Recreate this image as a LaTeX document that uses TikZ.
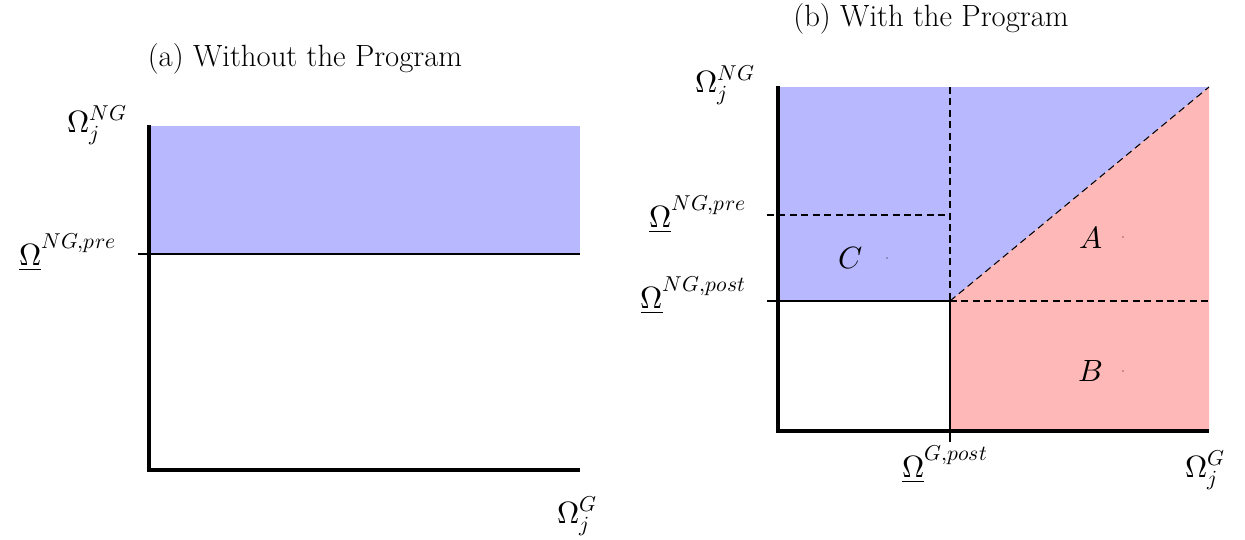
\documentclass[tikz,border=0pt]{standalone}
\usepackage{amsmath}
\usepackage{unicode-math}
\setmathfont{Latin Modern Math}
\usepackage{xcolor}
\usetikzlibrary{positioning}

\begin{document}
\begin{tikzpicture}[
    x=0.02cm, y=-0.02cm,
    font=\fontsize{17.5}{21}\selectfont,
    axisline/.style={line width=2.3pt},
    guideline/.style={line width=0.6pt},
    guidedash/.style={line width=0.6pt, dash pattern=on 4pt off 2.5pt},
    lbl/.style={inner sep=0pt, outer sep=0pt},
]
\useasboundingbox (0,0) rectangle (1245,539);

% ---------------- (a) Without the Program ----------------
\node[lbl, anchor=base] (titleA) at (305,66) {(a) Without the Program};

\fill[blue!28] (148,126) rectangle (580,254);
\draw[guideline] (138,254) -- (580,254);
\draw[axisline] (149,125) -- (149,470) -- (580,470);

\node[lbl, anchor=base east] (ngA) at (127,132) {$\Omega_j^{NG}$};
\node[lbl, anchor=base east] (preA) at (116,265) {$\underline{\Omega}^{NG,pre}$};
\node[lbl, anchor=base west] (gA) at (557,523) {$\Omega_j^{G}$};

% ---------------- (b) With the Program ----------------
\node[lbl, anchor=base] (titleB) at (931,26) {(b) With the Program};

% regions
\fill[blue!28] (778,87) -- (1209,87) -- (950,301) -- (778,301) -- cycle;
\fill[red!28] (950,301) -- (1209,87) -- (1209,431) -- (950,431) -- cycle;

% guides
\draw[guidedash] (950,87) -- (950,301);
\draw[guideline] (950,301) -- (950,442);
\draw[guidedash] (767,215) -- (950,215);
\draw[guideline] (767,301) -- (950,301);
\draw[guidedash] (950,301) -- (1209,301);
\draw[guidedash] (950,301) -- (1209,87);

% axes
\draw[axisline] (778,86) -- (778,431) -- (1209,431);

% axis labels
\node[lbl, anchor=base east] (ngB) at (755,92) {$\Omega_j^{NG}$};
\node[lbl, anchor=base east] (preB) at (746,227) {$\underline{\Omega}^{NG,pre}$};
\node[lbl, anchor=base east] (postB) at (746,308) {$\underline{\Omega}^{NG,post}$};
\node[lbl, anchor=base west] (gpostB) at (902,477) {$\underline{\Omega}^{G,post}$};
\node[lbl, anchor=base west] (gB) at (1185,477) {$\Omega_j^{G}$};

% area labels
\coordinate (dotA) at (1123,237);
\coordinate (dotB) at (1123,371);
\coordinate (dotC) at (887,258);
\foreach \d in {dotA,dotB,dotC}
  \fill (\d) circle (0.4pt);
\node[lbl, left=20 of dotA] (areaA) {$A$};
\node[lbl, left=20 of dotB] (areaB) {$B$};
\node[lbl, left=24 of dotC] (areaC) {$C$};
\end{tikzpicture}
\end{document}
